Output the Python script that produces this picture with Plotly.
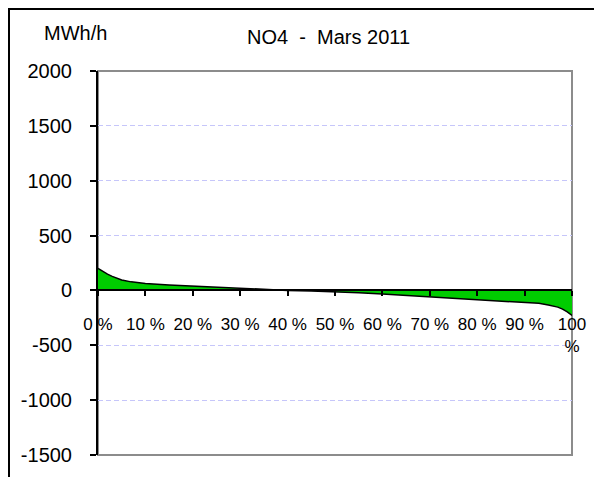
import plotly.graph_objects as go

# duration curve, share of hours (%) vs MWh/h
pct = [0, 1, 2, 3, 5, 7, 10, 15, 20, 25, 30, 35, 40, 45, 50, 55, 60, 65,
       70, 75, 80, 85, 90, 93, 95, 97, 98, 99, 100]
mwh = [200, 170, 148, 128, 95, 78, 64, 50, 40, 28, 18, 8, 0, -5, -12, -22,
       -33, -45, -57, -70, -82, -92, -105, -118, -132, -152, -170, -195, -228]

x_ticks = [0, 10, 20, 30, 40, 50, 60, 70, 80, 90, 100]
x_labels = ["0 %", "10 %", "20 %", "30 %", "40 %", "50 %", "60 %", "70 %",
            "80 %", "90 %", "100<br>%"]
y_ticks = [-1500, -1000, -500, 0, 500, 1000, 1500, 2000]
y_labels = ["-1500", "-1000", "-500", "0", "500", "1000", "1500", "2000"]
y_min, y_max = -1500, 2000

FONT = "Liberation Sans, Arial, sans-serif"
W, H = 594, 477
# plot area in page pixels: x 98..572, y 71..455
L, R, T, B = 98, W - 572, 71, H - 455

def px_x(p):
    return (p - L) / (W - L - R)

def px_y(p):
    return (H - B - p) / (H - T - B)

fig = go.Figure()
fig.add_trace(go.Scatter(
    x=pct, y=mwh, mode="lines", fill="tozeroy",
    fillcolor="#00CC00", line=dict(color="black", width=1.5),
    showlegend=False, hoverinfo="skip"
))

fig.update_layout(
    width=W, height=H, autosize=False,
    margin=dict(l=L, r=R, t=T, b=B),
    paper_bgcolor="white", plot_bgcolor="white",
    font=dict(family=FONT, color="black"),
    xaxis=dict(
        range=[0, 100], anchor="free", automargin=False,
        position=(0 - y_min) / (y_max - y_min),
        tickvals=x_ticks, ticktext=x_labels,
        ticks="outside", ticklen=5, tickwidth=1.5, tickcolor="black",
        showline=True, linecolor="black", linewidth=2,
        showgrid=False, zeroline=False,
        tickfont=dict(size=17), ticklabelstandoff=13,
        ticklabeloverflow="allow",
    ),
    yaxis=dict(
        range=[y_min, y_max], tickvals=y_ticks, ticktext=y_labels,
        automargin=False,
        ticks="outside", ticklen=6, tickwidth=1.5, tickcolor="black",
        showline=True, linecolor="black", linewidth=2,
        showgrid=True, gridcolor="#C6C6FA", griddash="5px,3px", gridwidth=1.3,
        zeroline=False,
        tickfont=dict(size=20), ticklabelstandoff=14,
    ),
    shapes=[
        dict(type="rect", xref="paper", yref="paper", x0=0, x1=1, y0=0, y1=1,
             line=dict(color="#8C8C8C", width=2), layer="below"),
        dict(type="rect", xref="paper", yref="paper",
             x0=px_x(9), x1=px_x(640), y0=px_y(9), y1=px_y(520),
             line=dict(color="black", width=2), layer="below"),
    ],
    annotations=[
        dict(text="NO4\u00a0 -\u00a0 Mars 2011", xref="paper", yref="paper",
             x=px_x(328), y=px_y(37), xanchor="center", yanchor="middle",
             showarrow=False, font=dict(size=20)),
        dict(text="MWh/h", xref="paper", yref="paper",
             x=px_x(75), y=px_y(33), xanchor="center", yanchor="middle",
             showarrow=False, font=dict(size=20)),
    ],
)

fig.write_html(
    "out.html",
    config={"displayModeBar": False},
    post_script="document.body.style.margin='0';document.body.style.overflow='hidden';",
)
